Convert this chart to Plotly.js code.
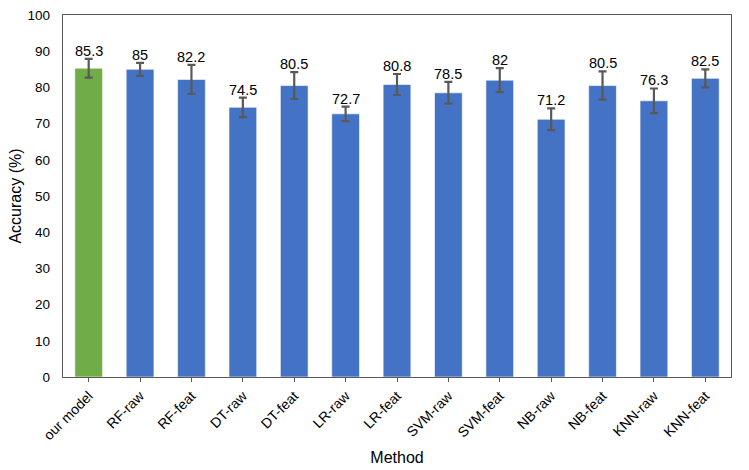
<!DOCTYPE html>
<html>
<head>
<meta charset="utf-8">
<script src="https://cdn.plot.ly/plotly-3.0.1.min.js"></script>
<style>html,body{margin:0;padding:0;background:#fff;}#chart{width:749px;height:470px;}</style>
</head>
<body>
<div id="chart"></div>
<script>
const methods = ["our model","RF-raw","RF-feat","DT-raw","DT-feat","LR-raw","LR-feat","SVM-raw","SVM-feat","NB-raw","NB-feat","KNN-raw","KNN-feat"];
const accuracy = [85.3, 85, 82.2, 74.5, 80.5, 72.7, 80.8, 78.5, 82, 71.2, 80.5, 76.3, 82.5];
const errors = [2.6, 1.8, 4.0, 2.7, 3.7, 2.0, 2.9, 3.0, 3.3, 3.0, 3.9, 3.4, 2.5];
const labels = ["85.3","85","82.2","74.5","80.5","72.7","80.8","78.5","82","71.2","80.5","76.3","82.5"];

const colors = methods.map((m, i) => i === 0 ? "#70AD47" : "#4472C4");

const trace = {
  type: "bar",
  x: methods,
  y: accuracy,
  marker: {color: colors, line: {color: "rgba(255,255,255,0.6)", width: 1}},
  error_y: {type: "data", array: errors, visible: true, color: "#595959", thickness: 2.2, width: 4},
  hoverinfo: "x+y"
};

const annotations = methods.map((m, i) => ({
  x: m, y: accuracy[i] + errors[i], xref: "x", yref: "y",
  text: labels[i], showarrow: false, yanchor: "middle", yshift: 8,
  font: {family: "Liberation Sans, Arial, sans-serif", size: 14.5, color: "#000"}
}));

const layout = {
  width: 749, height: 470,
  margin: {l: 63, r: 18, t: 15, b: 93},
  paper_bgcolor: "#fff", plot_bgcolor: "#fff",
  bargap: 0.46,
  showlegend: false,
  font: {family: "Liberation Sans, Arial, sans-serif", color: "#000"},
  xaxis: {
    title: {text: "Method", font: {size: 16, color: "#000"}, standoff: 9},
    tickangle: -45,
    tickfont: {size: 14, color: "#000"},
    showline: true, linecolor: "#595959", linewidth: 1.3, mirror: true,
    ticks: "outside", ticklen: 4, tickcolor: "#595959",
    showgrid: false
  },
  yaxis: {
    title: {text: "Accuracy (%)", font: {size: 16, color: "#000"}, standoff: 2},
    range: [0, 100], dtick: 10,
    tickfont: {size: 13.5, color: "#000"},
    ticklabelstandoff: 9,
    showline: true, linecolor: "#595959", linewidth: 1.3, mirror: true,
    ticks: "", showgrid: false, zeroline: false
  },
  annotations: annotations
};

Plotly.newPlot("chart", [trace], layout, {displayModeBar: false, staticPlot: true});
</script>
</body>
</html>
